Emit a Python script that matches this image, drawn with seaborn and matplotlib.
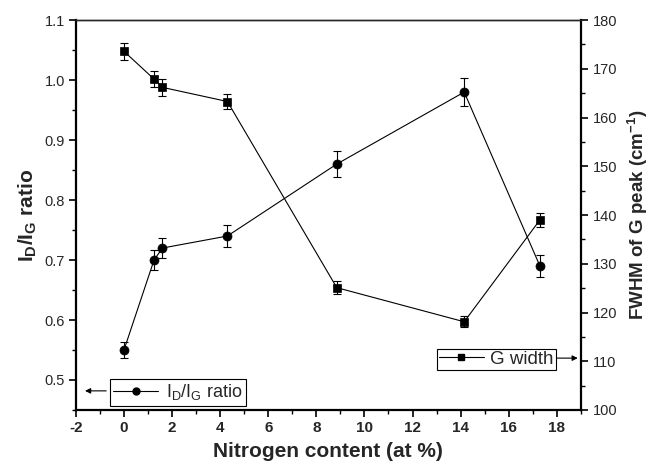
import numpy as np
import pandas as pd
import seaborn as sns
import matplotlib
matplotlib.use("Agg")
import matplotlib.pyplot as plt
from matplotlib.ticker import MultipleLocator
from matplotlib.lines import Line2D

# ---- data ----
nitrogen = [0.0, 1.25, 1.6, 4.3, 8.85, 14.15, 17.3]
id_ig = [0.55, 0.70, 0.72, 0.74, 0.86, 0.98, 0.69]
id_ig_err = [0.014, 0.017, 0.017, 0.018, 0.022, 0.024, 0.018]
g_width = [173.6, 167.9, 166.2, 163.3, 125.1, 118.1, 139.0]
g_width_err = [1.8, 1.7, 1.7, 1.6, 1.3, 1.1, 1.5]
x_ticks = [-2, 0, 2, 4, 6, 8, 10, 12, 14, 16, 18]
left_ticks = [0.5, 0.6, 0.7, 0.8, 0.9, 1.0, 1.1]
right_ticks = [100, 110, 120, 130, 140, 150, 160, 170, 180]

sns.set_style("ticks")
plt.rcParams["font.family"] = ["Liberation Sans", "DejaVu Sans"]
plt.rcParams["mathtext.fontset"] = "custom"
plt.rcParams["mathtext.rm"] = "Liberation Sans"
plt.rcParams["mathtext.it"] = "Liberation Sans"
plt.rcParams["mathtext.bf"] = "Liberation Sans:bold"

df = pd.DataFrame({"x": nitrogen, "ratio": id_ig, "ratio_err": id_ig_err,
                   "gw": g_width, "gw_err": g_width_err})

fig = plt.figure(figsize=(6.6, 4.68), dpi=100)
ax = fig.add_axes([0.115, 0.124, 0.765, 0.833])
ax2 = ax.twinx()

# left series: ID/IG ratio
sns.lineplot(data=df, x="x", y="ratio", ax=ax, color="black", lw=0.8,
             marker="o", markersize=6.5, markeredgecolor="black", markeredgewidth=0.5,
             estimator=None, sort=False)
ax.errorbar(df["x"], df["ratio"], yerr=df["ratio_err"], fmt="none",
            ecolor="black", elinewidth=0.8, capsize=3, capthick=0.8)

# right series: G width
sns.lineplot(data=df, x="x", y="gw", ax=ax2, color="black", lw=0.8,
             marker="s", markersize=6, markeredgecolor="black", markeredgewidth=0.5,
             estimator=None, sort=False)
ax2.errorbar(df["x"], df["gw"], yerr=df["gw_err"], fmt="none",
             ecolor="black", elinewidth=0.8, capsize=3, capthick=0.8)

ax.set_xlim(-2, 19)
ax.set_ylim(0.45, 1.1)
ax2.set_ylim(100, 180)

ax.set_xticks(x_ticks)
ax.set_xticklabels([str(t) for t in x_ticks], fontweight="bold", fontsize=11)
ax.xaxis.set_minor_locator(MultipleLocator(1))
ax.set_yticks(left_ticks)
ax.set_yticklabels([f"{t:.1f}" for t in left_ticks], fontsize=10.5)
ax.yaxis.set_minor_locator(MultipleLocator(0.05))
ax2.set_yticks(right_ticks)
ax2.set_yticklabels([str(t) for t in right_ticks], fontsize=10.5)
ax2.yaxis.set_minor_locator(MultipleLocator(5))

for a in (ax, ax2):
    a.tick_params(which="major", direction="out", length=5, width=1.2, color="black")
    a.tick_params(which="minor", direction="out", length=3, width=1.0, color="black")
ax.tick_params(axis="x", pad=3)
ax.tick_params(axis="y", pad=3)

for s in ["left", "bottom"]:
    ax.spines[s].set_linewidth(1.6)
    ax.spines[s].set_color("black")
ax.spines["top"].set_linewidth(1.0)
ax.spines["right"].set_visible(False)
ax2.spines["right"].set_linewidth(1.6)
ax2.spines["right"].set_color("black")
ax2.spines["top"].set_linewidth(1.0)
ax2.spines["left"].set_visible(False)
ax2.spines["bottom"].set_visible(False)

ax.set_xlabel("Nitrogen content (at %)", fontsize=15, fontweight="bold", labelpad=5)
ax.set_ylabel(r"$\mathbf{I_D/I_G}$ ratio", fontsize=15, fontweight="bold", labelpad=4)
ax2.set_ylabel(r"FWHM of G peak (cm$\mathbf{^{-1}}$)", fontsize=13.5, fontweight="bold", labelpad=6)

# legends
h1 = Line2D([], [], color="black", lw=0.8, marker="o", markersize=5)
h2 = Line2D([], [], color="black", lw=0.8, marker="s", markersize=4.5)
leg1 = ax2.legend([h1], [r"$\mathrm{I_D/I_G}$ ratio"], loc="lower left",
                  bbox_to_anchor=(0.067, 0.010), borderaxespad=0, fontsize=13,
                  fancybox=False, edgecolor="black", framealpha=1,
                  handlelength=2.5, handletextpad=0.4, borderpad=0.2)
leg1.get_frame().set_linewidth(0.8)
ax2.add_artist(leg1)
leg2 = ax2.legend([h2], ["G width"], loc="lower right",
                  bbox_to_anchor=(0.950, 0.103), borderaxespad=0, fontsize=13.5,
                  fancybox=False, edgecolor="black", framealpha=1,
                  handlelength=2.4, handletextpad=0.35, borderpad=0.1)
leg2.get_frame().set_linewidth(0.8)

ax2.annotate("", xy=(0.018, 0.049), xytext=(0.060, 0.049), xycoords="axes fraction",
             arrowprops=dict(arrowstyle="-|>", color="black", lw=0.8,
                             mutation_scale=8, shrinkA=0, shrinkB=0))
ax2.annotate("", xy=(0.994, 0.133), xytext=(0.951, 0.133), xycoords="axes fraction",
             arrowprops=dict(arrowstyle="-|>", color="black", lw=0.8,
                             mutation_scale=8, shrinkA=0, shrinkB=0))

fig.savefig("out.png", dpi=100)
